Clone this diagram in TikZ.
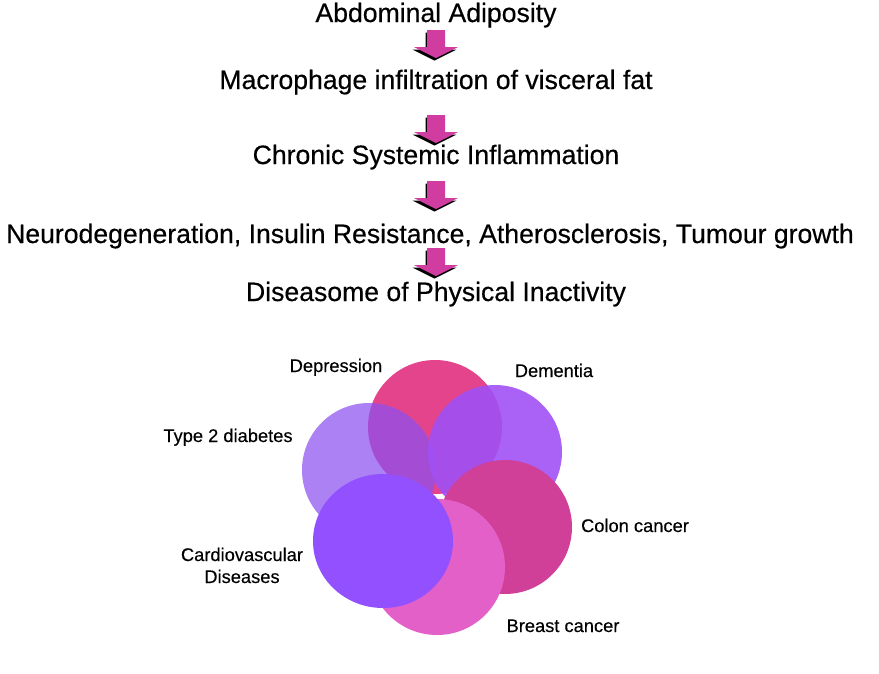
\documentclass[tikz,border=0pt]{standalone}
\usepackage{fontspec}
\setmainfont{Liberation Sans}
\usetikzlibrary{calc}
\definecolor{arrowmag}{RGB}{208,60,160}
\definecolor{cdep}{RGB}{228,68,140}
\definecolor{ctype}{RGB}{140,80,240}
\definecolor{cdem}{RGB}{160,80,245}
\definecolor{ccolon}{RGB}{208,64,152}
\definecolor{cbreast}{RGB}{226,96,200}
\definecolor{ccardio}{RGB}{146,80,255}
\tikzset{
  x=1pt,y=-1pt,
  maintext/.style={anchor=base,inner sep=0pt,font=\fontsize{26.6}{30}\selectfont\addfontfeature{FakeBold=0.4}},
  labeltext/.style={anchor=base,inner sep=0pt,align=center,font=\fontsize{18.3}{22}\selectfont\addfontfeature{FakeBold=0.3}},
  barrow/.pic={
    \fill[black] (-10.5,2.5) -- (7.5,2.5) -- (7.5,19.5) -- (20.5,19.5) -- (-1.5,30.5) -- (-23.5,19.5) -- (-10.5,19.5) -- cycle;
    \fill[arrowmag] (-9,0) -- (9,0) -- (9,17) -- (22,17) -- (0,28) -- (-22,17) -- (-9,17) -- cycle;
  }
}
\begin{document}
\begin{tikzpicture}
\useasboundingbox (0,0) rectangle (879,673);
\node[maintext] (t1) at (436,22) {Abdominal Adiposity};
\node[maintext] (t2) at (436,89) {Macrophage infiltration of visceral fat};
\node[maintext] (t3) at (436,164) {Chronic Systemic Inflammation};
\node[maintext] (t4) at (430,243) {Neurodegeneration, Insulin Resistance, Atherosclerosis, Tumour growth};
\node[maintext] (t5) at (436,301) {Diseasome of Physical Inactivity};
\coordinate (a1) at ($(t1.base)+(0,8)$);
\coordinate (a2) at ($(t2.base)+(0,26)$);
\coordinate (a3) at ($(t3.base)+(0,17)$);
\coordinate (a4) at ($(t4.base)+(6,5)$);
\pic at (a1) {barrow};
\pic at (a2) {barrow};
\pic at (a3) {barrow};
\pic at (a4) {barrow};
% circles
\fill[cdep] (435,427) circle (67);
\fill[ctype,opacity=0.72] (369,470) circle (67);
\fill[cdem,opacity=0.9] (495,452) circle (67);
\fill[ccolon] (505,527) circle (67);
\fill[cbreast] (437,567) circle (68);
\fill[ccardio] (383,541) ellipse [x radius=70,y radius=67];
% labels
\node[labeltext] (ldep) at (336,372) {Depression};
\node[labeltext] (ldem) at (554,377) {Dementia};
\node[labeltext] (ltype) at (228,442) {Type 2 diabetes};
\node[labeltext] (lcolon) at (635,532) {Colon cancer};
\node[labeltext] (lcardio) at (242,583) {Cardiovascular\\Diseases};
\node[labeltext] (lbreast) at (563,632) {Breast cancer};
\end{tikzpicture}
\end{document}
